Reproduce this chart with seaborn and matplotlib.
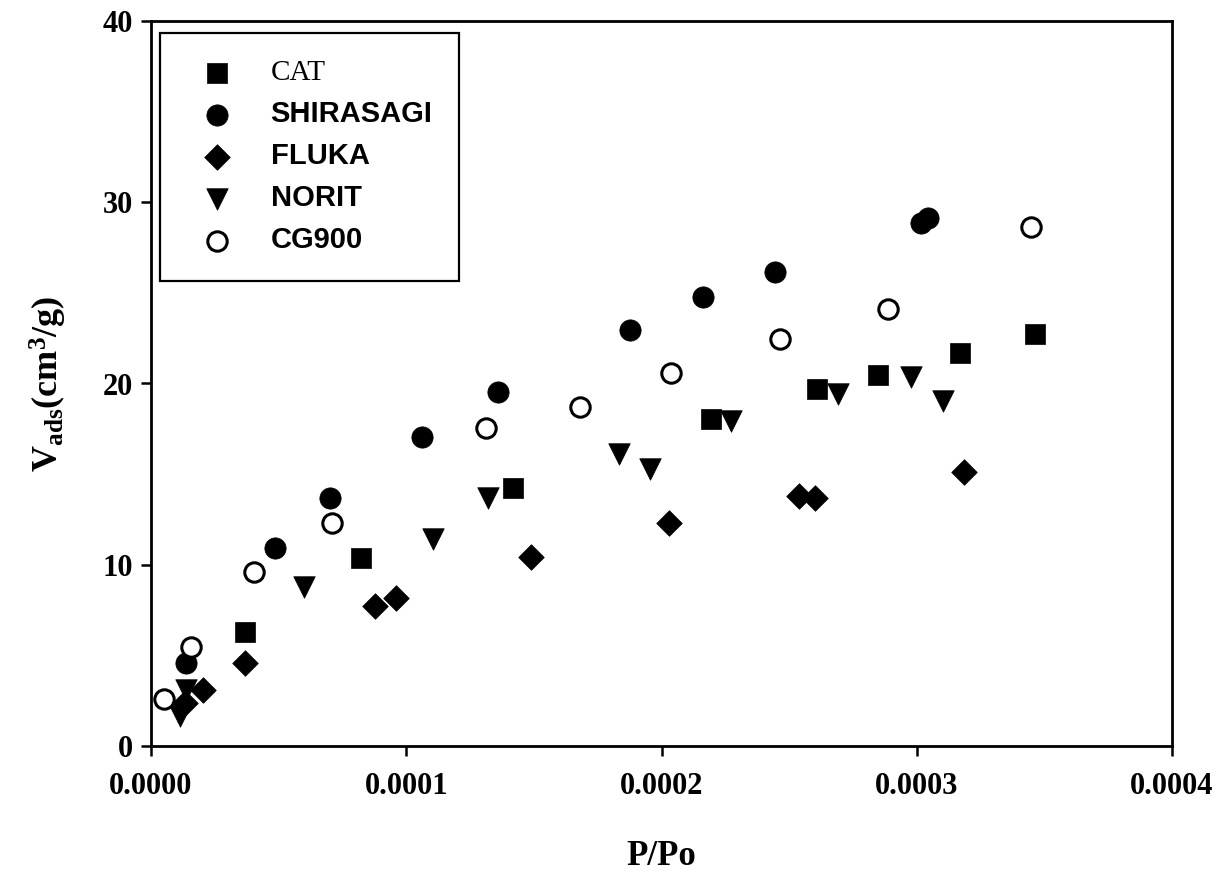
import numpy as np
import pandas as pd
import matplotlib
matplotlib.use("Agg")
import matplotlib.pyplot as plt
import matplotlib.ticker as mticker
import seaborn as sns

# ---- data ----
cat_x = [0.0000370, 0.0000823, 0.0001418, 0.0002195, 0.0002610, 0.0002847, 0.0003170, 0.0003464]
cat_y = [6.29, 10.36, 14.22, 18.02, 19.68, 20.47, 21.70, 22.73]

shira_x = [0.0000139, 0.0000484, 0.0000703, 0.0001061, 0.0001359, 0.0001877, 0.0002162, 0.0002446, 0.0003017, 0.0003046]
shira_y = [4.58, 10.91, 13.67, 17.07, 19.55, 22.95, 24.76, 26.15, 28.87, 29.11]

fluka_x = [0.0000135, 0.0000202, 0.0000370, 0.0000878, 0.0000961, 0.0001487, 0.0002031, 0.0002538, 0.0002602, 0.0003187]
fluka_y = [2.37, 3.09, 4.58, 7.72, 8.15, 10.44, 12.32, 13.79, 13.67, 15.13]

norit_x = [0.0000112, 0.0000139, 0.0000601, 0.0001104, 0.0001320, 0.0001833, 0.0001953, 0.0002273, 0.0002691, 0.0002978, 0.0003101]
norit_y = [1.66, 3.09, 8.79, 11.44, 13.68, 16.11, 15.28, 17.93, 19.44, 20.34, 19.05]

cg_x = [0.0000049, 0.0000157, 0.0000403, 0.0000708, 0.0001311, 0.0001681, 0.0002038, 0.0002466, 0.0002887, 0.0003448]
cg_y = [2.59, 5.46, 9.62, 12.29, 17.53, 18.72, 20.60, 22.44, 24.11, 28.62]

series_names = ["CAT", "SHIRASAGI", "FLUKA", "NORIT", "CG900"]
x_ticks = [0.0, 0.0001, 0.0002, 0.0003, 0.0004]
y_ticks = [0, 10, 20, 30, 40]

sns.set_theme(style="white")
plt.rcParams["font.family"] = ["Liberation Serif", "DejaVu Serif"]
plt.rcParams["text.color"] = "black"
plt.rcParams["axes.labelcolor"] = "black"
plt.rcParams["mathtext.fontset"] = "custom"
plt.rcParams["mathtext.rm"] = "Liberation Serif:bold"
plt.rcParams["mathtext.it"] = "Liberation Serif:bold"
plt.rcParams["mathtext.bf"] = "Liberation Serif:bold"

fig = plt.figure(figsize=(12.21, 8.80), dpi=100)
ax = fig.add_axes([151 / 1221, 1 - 746 / 880, (1172 - 151) / 1221, (746 - 21) / 880])

specs = [
    (cat_x, cat_y, "s", "black", 210),
    (shira_x, shira_y, "o", "black", 235),
    (fluka_x, fluka_y, "D", "black", 170),
    (norit_x, norit_y, "v", "black", 240),
    (cg_x, cg_y, "o", "white", 195),
]
for name, (xs, ys, mk, fc, s) in zip(series_names, specs):
    df = pd.DataFrame({"x": xs, "y": ys})
    sns.scatterplot(data=df, x="x", y="y", marker=mk, s=s, facecolor=fc,
                    edgecolor="black", linewidth=2.2 if fc == "white" else 0.5,
                    ax=ax, label=name, zorder=3)

ax.set_xlim(0, 0.0004)
ax.set_ylim(0, 40)
ax.set_xticks(x_ticks)
ax.set_yticks(y_ticks)
ax.xaxis.set_major_formatter(mticker.FormatStrFormatter("%.4f"))
ax.yaxis.set_major_formatter(mticker.FormatStrFormatter("%d"))

for sp in ax.spines.values():
    sp.set_visible(True)
    sp.set_color("black")
    sp.set_linewidth(2.0)

ax.tick_params(axis="x", which="major", direction="out", length=7, width=1.8,
               bottom=True, top=False, labelsize=22, pad=12, colors="black")
ax.tick_params(axis="y", which="major", direction="out", length=7, width=1.8,
               left=True, right=False, labelsize=22, pad=6, colors="black")
for lbl in ax.get_xticklabels() + ax.get_yticklabels():
    lbl.set_fontweight("bold")

ax.set_xlabel("P/Po", fontsize=25, fontweight="bold", labelpad=28, color="black")
ax.set_ylabel(r"V$_{\mathregular{ads}}$(cm$^{\mathregular{3}}$/g)", fontsize=26,
              fontweight="bold", labelpad=24, color="black")

leg = ax.legend(loc="upper left", bbox_to_anchor=(160 / 1221, 1 - 33 / 880),
                bbox_transform=fig.transFigure, borderaxespad=0,
                frameon=True, fancybox=False, shadow=False,
                fontsize=21, borderpad=0.92, labelspacing=0.48,
                handlelength=2.1, handletextpad=0.77, markerscale=1.0)
fr = leg.get_frame()
fr.set_edgecolor("black")
fr.set_linewidth(1.6)
fr.set_facecolor("white")
fr.set_alpha(1)
for t in leg.get_texts():
    t.set_color("black")
    if t.get_text() == "CAT":
        t.set_fontfamily(["Liberation Serif"])
        t.set_fontweight("normal")
    else:
        t.set_fontfamily(["Liberation Sans", "DejaVu Sans"])
        t.set_fontweight("bold")

fig.savefig("out.png", dpi=100, facecolor="white")
